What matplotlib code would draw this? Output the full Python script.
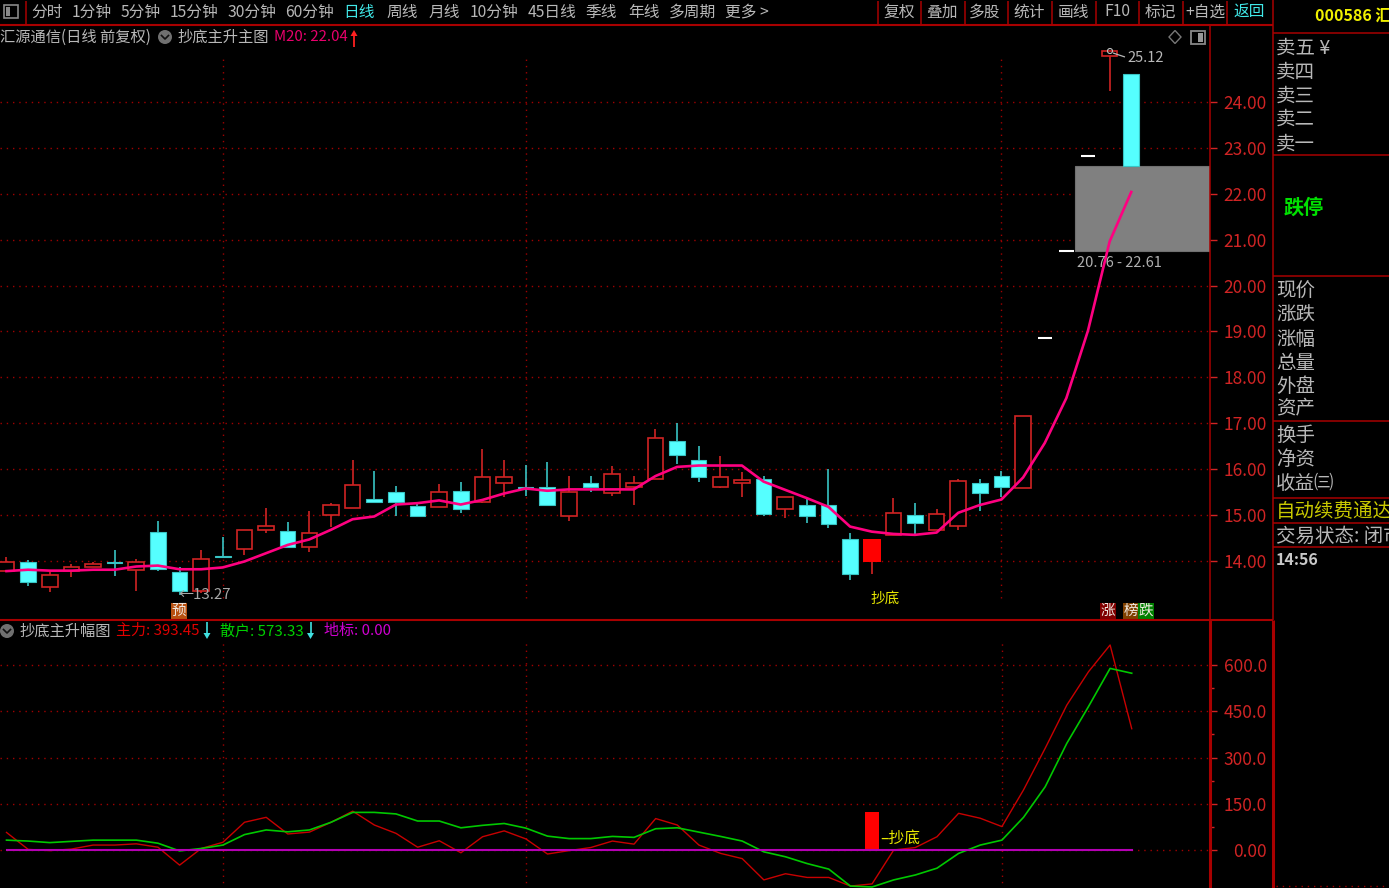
import matplotlib
matplotlib.use("Agg")
import matplotlib.pyplot as plt
from matplotlib.patches import Rectangle, Circle, Polygon

plt.rcParams['font.family'] = ['Noto Sans CJK SC', 'DejaVu Sans']

W, H = 1389, 888
STEP = 21.63
X0 = 6.5

opens = [13.79,13.97,13.44,13.79,13.88,13.97,13.80,14.63,13.75,13.35,14.11,14.26,14.67,14.65,14.31,15.00,15.16,15.36,15.50,15.20,
         15.18,15.53,15.29,15.71,15.61,15.61,14.99,15.69,15.49,15.62,15.79,16.61,16.20,15.62,15.71,15.79,15.13,15.23,15.23,14.49,
         13.98,14.57,15.01,14.67,14.76,15.71,15.85,15.60,18.86,20.75,22.82,25.00,24.60]
closes = [13.97,13.55,13.70,13.86,13.94,13.95,13.97,13.82,13.35,14.05,14.09,14.68,14.76,14.31,14.62,15.23,15.66,15.29,15.29,14.97,
          15.50,15.13,15.82,15.82,15.56,15.21,15.50,15.61,15.90,15.71,16.69,16.30,15.84,15.82,15.77,15.02,15.39,14.97,14.81,13.72,
          14.49,15.05,14.83,15.03,15.74,15.48,15.62,17.16,18.86,20.75,22.82,25.11,22.61]
highs = [14.08,14.02,13.77,13.93,13.98,14.25,14.04,14.88,13.87,14.25,14.53,14.68,15.15,14.85,15.10,15.26,16.21,15.97,15.64,15.24,
         15.68,15.72,16.43,16.21,16.09,16.16,15.85,15.86,16.08,15.85,16.87,17.00,16.51,16.29,15.93,15.86,15.39,15.35,16.00,14.60,
         14.49,15.37,15.26,15.13,15.78,15.78,15.95,17.16,18.86,20.75,22.82,25.12,24.60]
lows = [13.77,13.46,13.33,13.66,13.88,13.68,13.35,13.79,13.27,13.30,14.09,14.12,14.60,14.31,14.20,14.75,15.16,15.29,14.97,14.97,
        15.18,15.04,15.27,15.39,15.42,15.21,14.88,15.51,15.42,15.21,15.79,16.11,15.73,15.58,15.40,14.97,14.94,14.82,14.72,13.58,
        13.72,14.57,14.58,14.67,14.67,15.10,15.39,15.60,18.86,20.75,22.82,24.25,22.61]
m20 = [13.78,13.81,13.79,13.79,13.81,13.81,13.88,13.90,13.82,13.82,13.86,13.99,14.17,14.35,14.47,14.68,14.91,14.97,15.23,15.26,
       15.32,15.23,15.33,15.47,15.58,15.53,15.56,15.56,15.56,15.56,15.85,16.05,16.08,16.08,16.08,15.73,15.55,15.37,15.18,14.75,
       14.64,14.59,14.57,14.62,15.05,15.22,15.34,15.82,16.57,17.55,19.02,20.96,22.04]
zhuli = [57,2,-2,3,16,16,20,9,-49,5,25,90,106,52,58,90,126,81,54,9,
         30,-9,43,62,36,-13,-2,8,29,19,102,81,16,-11,-28,-97,-77,-89,-89,-117,
         -110,0,8,43,119,103,76,195,330,470,578,665,393.45]
sanhu = [32,29,24,28,32,32,32,22,-3,5,16,50,65,59,65,90,122,122,117,94,
         94,72,80,86,71,45,37,37,44,41,69,72,58,44,29,-6,-22,-44,-62,-117,
         -120,-97,-81,-59,-11,16,32,106,205,346,465,589,573.33]
dibiao = [0.0] * 53
price_ticks = [14, 15, 16, 17, 18, 19, 20, 21, 22, 23, 24]
price_labels = ['14.00','15.00','16.00','17.00','18.00','19.00','20.00','21.00','22.00','23.00','24.00']
low_ticks = [0, 150, 300, 450, 600]
low_labels = ['0.00','150.0','300.0','450.0','600.0']
low_minor = [75, 225, 375, 525]
grid_days = [10, 24, 46]
signal_day = 40
signal_height = 123
zone_low, zone_high = 20.76, 22.61
toolbar_left = ['分时','1分钟','5分钟','15分钟','30分钟','60分钟','日线','周线','月线','10分钟','45日线','季线','年线','多周期','更多 >']
toolbar_right = ['复权','叠加','多股','统计','画线','F10','标记','+自选','返回']
ask_labels = ['卖五 ¥','卖四','卖三','卖二','卖一']
quote_labels = ['现价','涨跌','涨幅','总量','外盘','资产']
extra_labels = ['换手','净资','收益㈢']

RED = '#d02424'
DOT = '#a00000'
CY = '#55ffff'
WICK = '#38c4c4'
FRAME = '#a80000'
GREY = '#b8b8b8'

fig = plt.figure(figsize=(W/100, H/100), dpi=100, facecolor='black')

def rect(x0, y0, x1, y1):
    return [x0/W, 1-y1/H, (x1-x0)/W, (y1-y0)/H]

n = len(opens)
xs = list(range(n))
xlim = (-X0/STEP, (1209.5-X0)/STEP)

# main panel
ax = fig.add_axes(rect(0, 25, 1209.5, 620), facecolor='black')
ax.set_xlim(*xlim)
ax.set_ylim(24-(620-102)/45.9, 24+(102-25)/45.9)
ax.set_yticks(price_ticks, price_labels)
ax.yaxis.tick_right()
ax.tick_params(axis='y', colors=RED, length=5, width=1, pad=36, labelsize=12.5)
for t in ax.get_yticklabels():
    t.set_ha('right')
ax.set_xticks([])
ax.grid(axis='y', color=DOT, linestyle=(0, (1, 3.5)), linewidth=1)
ax.set_axisbelow(True)
ax.vlines(grid_days, 13.2, 25.0, color=DOT, linestyle=(0, (1, 3.5)), linewidth=1, zorder=0.5)
for s in ax.spines.values():
    s.set_visible(False)

ax.add_patch(Rectangle((49.38, zone_low), xlim[1]-49.38, zone_high-zone_low, facecolor='#808080', edgecolor='#707070', linewidth=0.8, zorder=1))

bw = 0.72
for i in xs:
    o, c, h, l = opens[i], closes[i], highs[i], lows[i]
    top, bot = max(o, c), min(o, c)
    if o == c:
        ax.hlines(o, i-0.33, i+0.33, color='white', linewidth=1.5, zorder=3)
    elif i == signal_day:
        ax.vlines(i, l, h, color=RED, linewidth=1.2, zorder=2)
        ax.bar(i, top-bot, bottom=bot, width=0.84, color='#ff0000', zorder=3)
    elif c > o:
        ax.vlines(i, l, h, color=RED, linewidth=1.2, zorder=2)
        ax.bar(i, top-bot, bottom=bot, width=bw, facecolor='black', edgecolor=RED, linewidth=1.2, zorder=3)
    else:
        ax.vlines(i, l, h, color=WICK, linewidth=1.2, zorder=2)
        ax.bar(i, top-bot, bottom=bot, width=bw, facecolor=CY, edgecolor=WICK, linewidth=0.8, zorder=3)
ax.plot(xs, m20, color='#ff0080', linewidth=1.9, zorder=5, solid_joinstyle='round')

# lower panel
ax2 = fig.add_axes(rect(0, 620, 1210, 888), facecolor='black')
ax2.set_xlim(*xlim)
ax2.set_ylim(-(888-850)/0.3083, (850-620)/0.3083)
ax2.set_yticks(low_ticks, low_labels)
ax2.set_yticks(low_minor, minor=True)
ax2.yaxis.tick_right()
ax2.tick_params(axis='y', which='major', colors=RED, length=5, width=1, pad=36, labelsize=12.5)
ax2.tick_params(axis='y', which='minor', colors=RED, length=3, width=1)
for t in ax2.get_yticklabels():
    t.set_ha('right')
ax2.set_xticks([])
ax2.grid(axis='y', color=DOT, linestyle=(0, (1, 3.5)), linewidth=1)
ax2.set_axisbelow(True)
ax2.vlines(grid_days, -130, 670, color=DOT, linestyle=(0, (1, 3.5)), linewidth=1, zorder=0.5)
for s in ax2.spines.values():
    s.set_visible(False)
ax2.bar(signal_day, signal_height, width=0.65, color='#ff0000', zorder=3)
ax2.plot(xs, zhuli, color='#c80000', linewidth=1.0, zorder=4)
ax2.plot(xs, sanhu, color='#00c800', linewidth=1.2, zorder=5)
ax2.plot(xs, dibiao, color='#b400b4', linewidth=1.5, zorder=6)

# overlay in figure pixels
ov = fig.add_axes([0, 0, 1, 1], facecolor='none', zorder=10)
ov.set_xlim(0, W)
ov.set_ylim(H, 0)
ov.axis('off')

def tx(x, y, s, color=GREY, size=11.3, ha='left', **kw):
    ov.text(x, y, s, color=color, fontsize=size, ha=ha, va='center', **kw)

def ln(x0, y0, x1, y1, color=FRAME, lw=1.1, **kw):
    ov.plot([x0, x1], [y0, y1], color=color, linewidth=lw, solid_capstyle='butt', **kw)

# frame
ln(0, 25, 1273, 25, lw=1.5)
ln(0, 620, 1273, 620, lw=1.5)
ln(1209.5, 25, 1209.5, 620)
ln(1210, 620, 1210, 888, lw=2.2)
ln(1272.5, 0, 1272.5, 620, lw=1.1)
ln(1272.5, 620, 1272.5, 888, lw=2.2)
ln(26, 1, 26, 25)
for yy in [33, 155, 276, 421, 497.5, 523, 547]:
    ln(1273, yy, W, yy)
for xx in [878, 921, 964.5, 1008, 1051.5, 1095.5, 1139, 1183, 1227]:
    ln(xx, 1, xx, 25)
ov.plot([1276, W], [886, 886], color=DOT, linestyle=(0, (1, 3.5)), linewidth=1)

# toolbar
ov.add_patch(Rectangle((4, 5), 14, 13, facecolor='none', edgecolor='#888888', linewidth=1.2))
ov.add_patch(Rectangle((6, 7), 4, 9, facecolor='#888888', edgecolor='none'))
lx = [47, 92, 141, 194, 252, 309, 359, 402, 444, 494, 552, 601, 644, 692, 747]
for x, s in zip(lx, toolbar_left):
    tx(x, 12, s, color='#40e8e8' if s == '日线' else GREY, ha='center')
rx = [899, 942, 985, 1029, 1073, 1117, 1160, 1205, 1249]
for x, s in zip(rx, toolbar_right):
    tx(x, 12, s, color='#40e8e8' if s == '返回' else GREY, ha='center')

# main header
def chevron(cx, cy):
    ov.add_patch(Circle((cx, cy), 7, facecolor='#707070', edgecolor='none'))
    ov.plot([cx-3.5, cx, cx+3.5], [cy-1.5, cy+2, cy-1.5], color='#111111', linewidth=1.2)

tx(0, 37, '汇源通信(日线 前复权)', size=11)
chevron(165, 37)
tx(178, 37, '抄底主升主图', size=11)
tx(274, 37, 'M20: 22.04', color='#e8006c', size=10.8)
ln(354, 47, 354, 33, color='#ff2020', lw=1.3)
ov.add_patch(Polygon([[350.5, 36], [357.5, 36], [354, 30]], facecolor='#ff2020', edgecolor='none'))

# diamond and panel icon
ov.add_patch(Polygon([[1175, 30.5], [1181, 37], [1175, 43.5], [1169, 37]], facecolor='none', edgecolor='#777777', linewidth=1))
ov.add_patch(Rectangle((1191, 31), 14, 13, facecolor='none', edgecolor='#888888', linewidth=1.3))
ov.add_patch(Rectangle((1198, 33), 5, 9, facecolor='#999999', edgecolor='none'))

# annotations on the main panel
tx(1127, 58, '25.12', color='#b8b8b8', size=10.5)
ln(1113, 53, 1125, 57, color='#b8b8b8', lw=0.9)
ov.add_patch(Circle((1110, 51), 2.5, facecolor='none', edgecolor='#c0c0c0', linewidth=0.8))
tx(178, 595, '←13.27', color='#a8a8a8', size=10.8)
tx(1077, 263, '20.76 - 22.61', color='#b0b0b0', size=10.5)
tx(885, 599, '抄底', color='#e8e800', size=10.5, ha='center')

def tag(x, y, s, bg):
    ov.add_patch(Rectangle((x-8, y-8), 16, 16, facecolor=bg, edgecolor='none'))
    tx(x, y, s, color='#f0e8e0', size=10.5, ha='center')

tag(179, 610.5, '预', '#b85010')
tag(1108, 610.5, '涨', '#800000')
tag(1131, 610.5, '榜', '#804000')
tag(1146, 610.5, '跌', '#008000')

# lower header
chevron(7, 631)
tx(20, 631, '抄底主升幅图', size=11)
tx(116, 631, '主力: 393.45', color='#e00000', size=10.8)
tx(220, 631, '散户: 573.33', color='#00d000', size=10.8)
tx(324, 631, '地标: 0.00', color='#d000d0', size=10.8)
for ax_x in [207, 310.5]:
    ln(ax_x, 622, ax_x, 634, color='#40e0e0', lw=1.2)
    ov.add_patch(Polygon([[ax_x-3.5, 633], [ax_x+3.5, 633], [ax_x, 639]], facecolor='#40e0e0', edgecolor='none'))
tx(880, 838, '–抄底', color='#e8e800', size=11.3)

# right panel
tx(1315, 16, '000586 汇', color='#f0f000', size=11.5, fontweight='bold')
for y, s in zip([48, 72, 96, 119, 144], ask_labels):
    tx(1276, y, s, size=14)
tx(1284, 207, '跌停', color='#00e000', size=14.5, fontweight='bold')
for y, s in zip([291, 315, 339, 363, 386, 409], quote_labels):
    tx(1276, y, s, size=14)
for y, s in zip([435, 459, 483], extra_labels):
    tx(1276, y, s, size=14)
tx(1276, 511, '自动续费通达', color='#c8c800', size=14)
tx(1276, 536, '交易状态: 闭市', size=14)
tx(1276, 560, '14:56', color='#c8c8c8', size=11.5, fontweight='bold')

fig.savefig('out.png', dpi=100, facecolor='black')
